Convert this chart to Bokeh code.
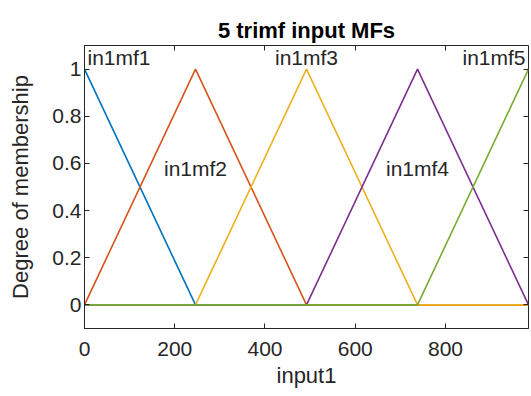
from bokeh.plotting import figure
from bokeh.models import Range1d, FixedTicker, LinearAxis, Label
from bokeh.embed import file_html
from bokeh.resources import INLINE

# ---- data ----
x_nodes = [0, 246, 492, 738, 984]
mf1 = [1, 0, 0, 0, 0]
mf2 = [0, 1, 0, 0, 0]
mf3 = [0, 0, 1, 0, 0]
mf4 = [0, 0, 0, 1, 0]
mf5 = [0, 0, 0, 0, 1]
series = [mf1, mf2, mf3, mf4, mf5]
mf_names = ["in1mf1", "in1mf2", "in1mf3", "in1mf4", "in1mf5"]
label_peaks = [0, 246, 492, 738, 984]
label_heights = [1, 0.53, 1, 0.53, 1]
x_ticks = [0, 200, 400, 600, 800]
y_ticks = [0, 0.2, 0.4, 0.6, 0.8, 1]
y_tick_labels = ["0", "0.2", "0.4", "0.6", "0.8", "1"]

colors = ["#0072BD", "#D95319", "#EDB120", "#7E2F8E", "#77AC30"]
FONT = "Liberation Sans"
AX = "#262626"

p = figure(width=531, height=396, x_range=Range1d(0, 984), y_range=Range1d(-0.1, 1.1),
           output_backend="svg", toolbar_location=None,
           min_border_left=84, min_border_right=3, min_border_top=45, min_border_bottom=68,
           title="5 trimf input MFs")
p.background_fill_color = "white"
p.border_fill_color = "white"
p.outline_line_color = AX
p.outline_line_width = 1
p.grid.visible = False

p.title.align = "center"
p.title.text_font = FONT
p.title.text_font_size = "22px"
p.title.text_font_style = "bold"
p.title.text_color = "#000000"
p.title.standoff = 6

for ax in (p.xaxis[0], p.yaxis[0]):
    ax.major_tick_in = 5
    ax.major_tick_out = 0
    ax.minor_tick_line_color = None
    ax.major_tick_line_color = AX
    ax.axis_line_color = AX
    ax.major_label_text_font = FONT
    ax.major_label_text_font_size = "21px"
    ax.major_label_text_color = AX
    ax.axis_label_text_font = FONT
    ax.axis_label_text_font_size = "22px"
    ax.axis_label_text_font_style = "normal"
    ax.axis_label_text_color = AX

p.xaxis.ticker = FixedTicker(ticks=x_ticks)
p.yaxis.ticker = FixedTicker(ticks=y_ticks)
p.yaxis.major_label_overrides = {t: s for t, s in zip(y_ticks, y_tick_labels)}
p.xaxis.axis_label = "input1"
p.yaxis.axis_label = "Degree of membership"
p.xaxis.major_label_standoff = 13
p.xaxis.axis_label_standoff = 4
p.yaxis.major_label_standoff = 3
p.yaxis.axis_label_standoff = 16

top = LinearAxis(ticker=FixedTicker(ticks=x_ticks), major_label_text_font_size="1px",
                 major_label_text_color=None,
                 major_tick_in=5, major_tick_out=0, minor_tick_line_color=None,
                 axis_line_color=None, major_tick_line_color=AX, major_label_standoff=0)
right = LinearAxis(ticker=FixedTicker(ticks=y_ticks), major_label_text_font_size="1px",
                   major_label_text_color=None,
                   major_tick_in=5, major_tick_out=0, minor_tick_line_color=None,
                   axis_line_color=None, major_tick_line_color=AX, major_label_standoff=0)
p.add_layout(top, "above")
p.add_layout(right, "right")

for ys, c in zip(series, colors):
    p.line(x_nodes, ys, line_color=c, line_width=1.6)

n = len(mf_names)
for i, (name, px, py) in enumerate(zip(mf_names, label_peaks, label_heights)):
    if i == 0:
        align, off = "left", 3
    elif i == n - 1:
        align, off = "right", -3
    else:
        align, off = "center", 0
    p.add_layout(Label(x=px, y=py, text=name, text_align=align, text_baseline="bottom",
                       x_offset=off, text_font=FONT, text_font_size="21px", text_color=AX))

open("out.html", "w").write(file_html(p, INLINE))
